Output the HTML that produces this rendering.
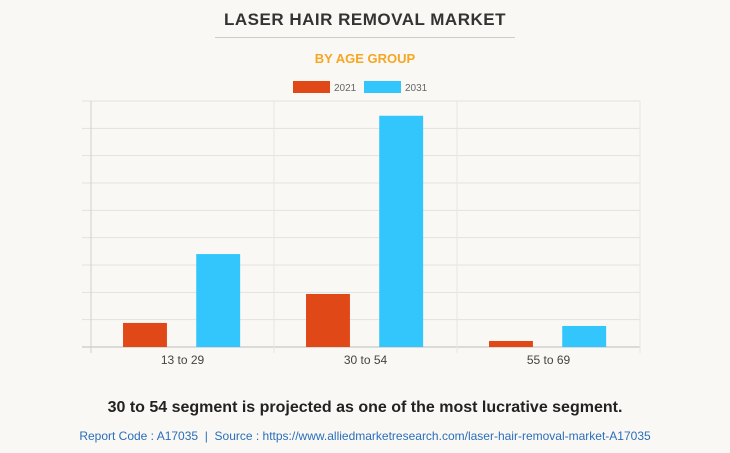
<!DOCTYPE html>
<html><head><meta charset="utf-8"><style>
body{margin:0;background:#f9f8f4;font-family:"Liberation Sans",sans-serif;}
#wrap{position:relative;width:730px;height:453px;overflow:hidden;background:#f9f8f4;}
.t{position:absolute;left:0;width:730px;text-align:center;}
</style></head><body>
<div id="wrap">
<div class="t" style="top:10px;font-size:17px;font-weight:bold;color:#333;letter-spacing:0.5px">LASER HAIR REMOVAL MARKET</div>
<div style="position:absolute;left:215px;top:37px;width:300px;height:1px;background:#ccc"></div>
<div class="t" style="top:51px;font-size:13px;font-weight:bold;color:#f5a623">BY AGE GROUP</div>
<svg id="chart" width="730" height="453" style="position:absolute;left:0;top:0"></svg>
<div class="t" style="top:399px;font-size:16px;font-weight:bold;color:#222">30 to 54 segment is projected as one of the most lucrative segment.</div>
<div class="t" style="top:429px;font-size:12px;color:#2a6ebb">Report Code : A17035 &nbsp;|&nbsp; Source : https://www.alliedmarketresearch.com/laser-hair-removal-market-A17035</div>
</div>
<script>
const categories=["13 to 29","30 to 54","55 to 69"];
const series2021=[0.88,1.94,0.22];
const series2031=[3.4,8.46,0.77];
const seriesNames=["2021","2031"];
const yMax=9;
const colors=["#e04817","#33c6fd"];
const NS="http://www.w3.org/2000/svg";
const svg=document.getElementById("chart");
const L=91,R=640,T=101,B=347;
function y(v){return B-(v/yMax)*(B-T);}
const bandW=(R-L)/categories.length;
function mk(tag,attrs){const e=document.createElementNS(NS,tag);for(const k in attrs)e.setAttribute(k,attrs[k]);svg.appendChild(e);return e;}
for(let i=0;i<=yMax;i++){
  const g=mk("line",{x1:82,x2:R,y1:y(i),y2:y(i),stroke:i===0?"#bbb":"#e2e2e2","stroke-width":1});
  
  
}
for(let i=0;i<=categories.length;i++){
  const x=L+i*bandW;
  const g=mk("line",{x1:x,x2:x,y1:T,y2:B+6,stroke:i===0?"#d0d0d0":"#e6e6e6","stroke-width":1});
  
  
}
const all=[series2021,series2031];
categories.forEach((c,i)=>{
  const x0=L+i*bandW;
  all.forEach((s,j)=>{
    const bx=x0+bandW*(0.175+j*0.4);
    const r=mk("rect",{x:bx,y:y(s[i]),width:bandW*0.24,height:B-y(s[i]),fill:colors[j]});
    
    
  });
  const t=mk("text",{x:x0+bandW/2,y:B+17,"text-anchor":"middle","font-size":12,fill:"#444","font-family":"Liberation Sans, sans-serif"});
  t.textContent=c;
  
  
});
const lx=[293,364];
seriesNames.forEach((n,j)=>{
  const r=mk("rect",{x:lx[j],y:81,width:37,height:12,fill:colors[j]});
  
  
  const t=mk("text",{x:lx[j]+41,y:91,"font-size":10,fill:"#666","font-family":"Liberation Sans, sans-serif"});
  t.textContent=n;
  
  
});
</script>
</body></html>
